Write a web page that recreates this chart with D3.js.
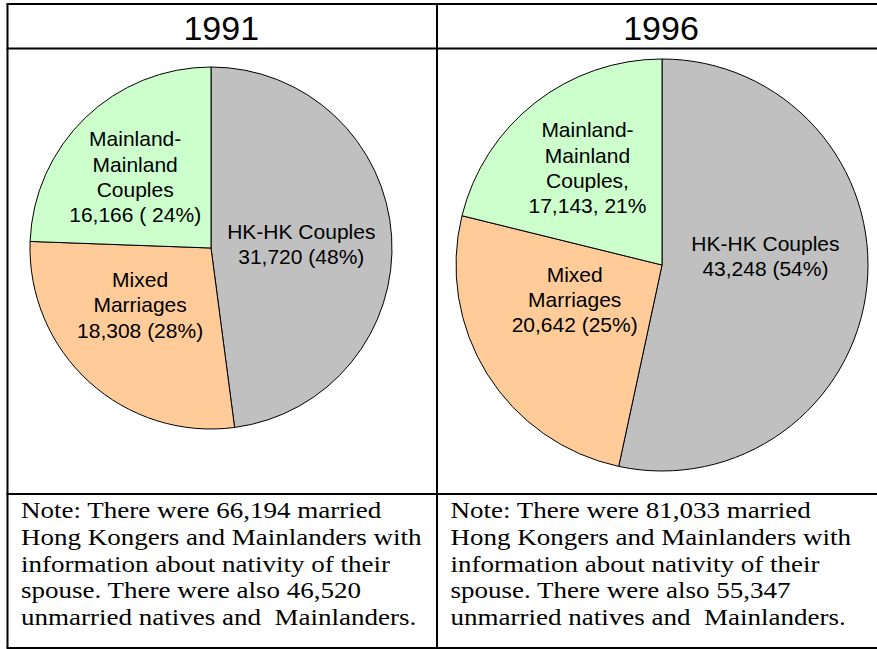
<!DOCTYPE html>
<html>
<head>
<meta charset="utf-8">
<script src="https://cdn.jsdelivr.net/npm/d3@7"></script>
<style>
    html, body { margin: 0; padding: 0; background: #fff; }
    svg { display: block; }
    .year-title { font-family: Arial, 'Liberation Sans', sans-serif; font-size: 34px; fill: #000; }
    .slice-label { font-family: Arial, 'Liberation Sans', sans-serif; font-size: 21px; fill: #000; }
    .note-text { font-family: 'Times New Roman', 'Liberation Serif', serif; font-size: 23px; fill: #000; }
    .grid-line { stroke: #000; stroke-width: 2; }
</style>
</head>
<body>
<svg id="chart" width="877" height="649"></svg>
<script>
// === DATA ===

const YEARS = ['1991', '1996'];
const CATEGORIES = ['HK-HK Couples', 'Mixed Marriages', 'Mainland-Mainland Couples'];

const VALUES_1991 = [31720, 18308, 16166];
const VALUES_1996 = [43248, 20642, 17143];

const LABELS_1991 = [
    ['HK-HK Couples', '31,720 (48%)'],
    ['Mixed', 'Marriages', '18,308 (28%)'],
    ['Mainland-', 'Mainland', 'Couples', '16,166 ( 24%)']
];
const LABELS_1996 = [
    ['HK-HK Couples', '43,248 (54%)'],
    ['Mixed', 'Marriages', '20,642 (25%)'],
    ['Mainland-', 'Mainland', 'Couples,', '17,143, 21%']
];

const NOTES_1991 = [
    'Note: There were 66,194 married',
    'Hong Kongers and Mainlanders with',
    'information about nativity of their',
    'spouse. There were also 46,520',
    'unmarried natives and\u00a0 Mainlanders.'
];
const NOTES_1996 = [
    'Note: There were 81,033 married',
    'Hong Kongers and Mainlanders with',
    'information about nativity of their',
    'spouse. There were also 55,347',
    'unmarried natives and\u00a0 Mainlanders.'
];

// === LAYOUT & STYLE ===

const COLORS = d3.scaleOrdinal()
    .domain(CATEGORIES)
    .range(['#c0c0c0', '#ffcc99', '#ccffcc']);

const TABLE = { left: 7.5, mid: 437, right: 887, top: 4, headBottom: 48.5, noteTop: 494, bottom: 648 };

const PANELS = [
    { year: YEARS[0], values: VALUES_1991, labels: LABELS_1991, notes: NOTES_1991,
      cx: 211, cy: 248, r: 181,
      nudge: [[0, 2], [-10, -10], [-13, -6]] },
    { year: YEARS[1], values: VALUES_1996, labels: LABELS_1996, notes: NOTES_1996,
      cx: 662, cy: 265, r: 206,
      nudge: [[1, -20], [0, -20], [-11, -16]] }
];

const LABEL_LINE = 25.3;
const NOTE_LINE = 26.6;
const NOTE_STRETCH = 1.175;

const svg = d3.select('#chart');

// === TABLE GRID ===

const hLines = [TABLE.top, TABLE.headBottom, TABLE.noteTop, TABLE.bottom];
svg.selectAll('line.h')
    .data(hLines)
    .join('line')
    .attr('class', 'grid-line h')
    .attr('x1', TABLE.left - 1)
    .attr('x2', TABLE.right)
    .attr('y1', d => d)
    .attr('y2', d => d);

const vLines = [TABLE.left, TABLE.mid, TABLE.right];
svg.selectAll('line.v')
    .data(vLines)
    .join('line')
    .attr('class', 'grid-line v')
    .attr('x1', d => d)
    .attr('x2', d => d)
    .attr('y1', TABLE.top)
    .attr('y2', TABLE.bottom);

// === PANELS ===

const pie = d3.pie().sort(null).value(d => d);

PANELS.forEach((p, i) => {
    const colLeft = i === 0 ? TABLE.left : TABLE.mid;
    const colRight = i === 0 ? TABLE.mid : TABLE.right;

    // year header
    svg.append('text')
        .attr('class', 'year-title')
        .attr('x', (colLeft + colRight) / 2 - 1)
        .attr('y', 40)
        .attr('text-anchor', 'middle')
        .text(p.year);

    const arc = d3.arc().innerRadius(0).outerRadius(p.r);

    const g = svg.append('g')
        .attr('transform', `translate(${p.cx},${p.cy})`);

    const arcs = pie(p.values);

    g.selectAll('path')
        .data(arcs)
        .join('path')
        .attr('d', arc)
        .attr('fill', (d, j) => COLORS(CATEGORIES[j]))
        .attr('stroke', '#000')
        .attr('stroke-width', 1);

    // slice labels, multi-line, centred on centroid + nudge
    arcs.forEach((a, j) => {
        const [x, y] = arc.centroid(a);
        const lines = p.labels[j];
        const bx = x + p.nudge[j][0];
        const by = y + p.nudge[j][1];
        const firstBase = by - (lines.length - 1) * LABEL_LINE / 2 + 7.5;
        g.append('text')
            .attr('class', 'slice-label')
            .attr('text-anchor', 'middle')
            .selectAll('tspan')
            .data(lines)
            .join('tspan')
            .attr('x', bx)
            .attr('y', (d, k) => firstBase + k * LABEL_LINE)
            .text(d => d);
    });

    // note text (horizontally stretched like the source)
    const noteG = svg.append('g')
        .attr('transform', `translate(${colLeft + 13.5},0) scale(${NOTE_STRETCH},1)`);
    noteG.append('text')
        .attr('class', 'note-text')
        .selectAll('tspan')
        .data(p.notes)
        .join('tspan')
        .attr('x', 0)
        .attr('y', (d, k) => 518.5 + k * NOTE_LINE)
        .text(d => d);
});
</script>
</body>
</html>
